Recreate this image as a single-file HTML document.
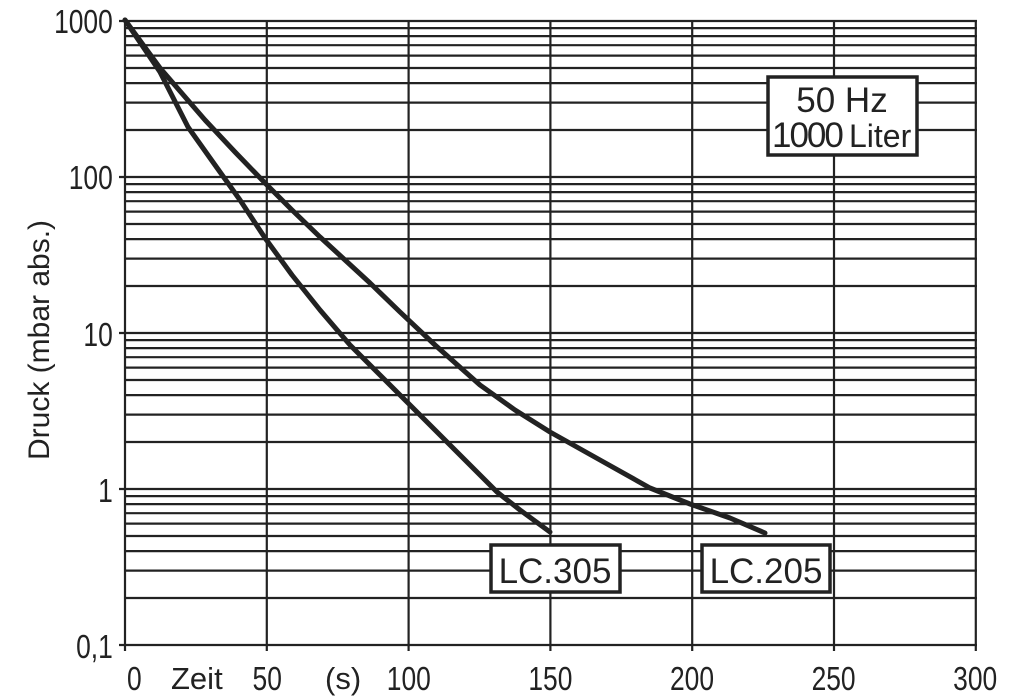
<!DOCTYPE html>
<html><head><meta charset="utf-8"><style>body{margin:0;background:#fff}svg{display:block}text{font-family:"Liberation Sans",sans-serif;fill:#222}</style></head>
<body>
<svg width="1009" height="697" viewBox="0 0 1009 697" xmlns="http://www.w3.org/2000/svg">
<g stroke="#222" stroke-width="2.2">
<line x1="119" y1="21" x2="977" y2="21"/><line x1="119" y1="177" x2="977" y2="177"/><line x1="119" y1="333" x2="977" y2="333"/><line x1="119" y1="489" x2="977" y2="489"/><line x1="119" y1="645" x2="977" y2="645"/>
<line x1="125" y1="130" x2="977" y2="130"/><line x1="125" y1="102.6" x2="977" y2="102.6"/><line x1="125" y1="83.1" x2="977" y2="83.1"/><line x1="125" y1="68" x2="977" y2="68"/><line x1="125" y1="55.6" x2="977" y2="55.6"/><line x1="125" y1="45.2" x2="977" y2="45.2"/><line x1="125" y1="36.1" x2="977" y2="36.1"/><line x1="125" y1="28.1" x2="977" y2="28.1"/>
<line x1="125" y1="286" x2="977" y2="286"/><line x1="125" y1="258.6" x2="977" y2="258.6"/><line x1="125" y1="239.1" x2="977" y2="239.1"/><line x1="125" y1="224" x2="977" y2="224"/><line x1="125" y1="211.6" x2="977" y2="211.6"/><line x1="125" y1="201.2" x2="977" y2="201.2"/><line x1="125" y1="192.1" x2="977" y2="192.1"/><line x1="125" y1="184.1" x2="977" y2="184.1"/>
<line x1="125" y1="442" x2="977" y2="442"/><line x1="125" y1="414.6" x2="977" y2="414.6"/><line x1="125" y1="395.1" x2="977" y2="395.1"/><line x1="125" y1="380" x2="977" y2="380"/><line x1="125" y1="367.6" x2="977" y2="367.6"/><line x1="125" y1="357.2" x2="977" y2="357.2"/><line x1="125" y1="348.1" x2="977" y2="348.1"/><line x1="125" y1="340.1" x2="977" y2="340.1"/>
<line x1="125" y1="598" x2="977" y2="598"/><line x1="125" y1="570.6" x2="977" y2="570.6"/><line x1="125" y1="551.1" x2="977" y2="551.1"/><line x1="125" y1="536" x2="977" y2="536"/><line x1="125" y1="523.6" x2="977" y2="523.6"/><line x1="125" y1="513.2" x2="977" y2="513.2"/><line x1="125" y1="504.1" x2="977" y2="504.1"/><line x1="125" y1="496.1" x2="977" y2="496.1"/>
<line x1="125" y1="21" x2="125" y2="651"/><line x1="266.8" y1="21" x2="266.8" y2="651"/><line x1="408.6" y1="21" x2="408.6" y2="651"/><line x1="550.4" y1="21" x2="550.4" y2="651"/><line x1="692.2" y1="21" x2="692.2" y2="651"/><line x1="834" y1="21" x2="834" y2="651"/><line x1="975.8" y1="21" x2="975.8" y2="651"/>
</g>
<g fill="none" stroke="#222" stroke-width="5" stroke-linejoin="round" stroke-linecap="round">
<polyline points="125,20 160,72 188,127 215,165 240,200 265,238 292,275 320,310 350,345 375,370 400,395 425,420 450,445 475,470 497,492 520,510 550,532"/>
<polyline points="125,20 160,68 205,120 235,152 265,183 292,210 320,237 345,260 370,283 400,312 435,345 480,385 515,410 550,432 600,460 650,488 690,504 730,518 765,533"/>
</g>
<g fill="#fff" stroke="#222" stroke-width="3.5">
<rect x="768" y="77" width="149" height="78"/>
<rect x="491" y="545" width="129" height="47"/>
<rect x="702" y="545" width="128" height="47"/>
</g>
<g font-size="35">
<text x="842" y="112" text-anchor="middle">50 Hz</text>
<text x="772" y="147" letter-spacing="-2">1000</text><text x="849" y="147" font-size="32">Liter</text>
<text x="555" y="583" text-anchor="middle">LC.305</text>
<text x="766" y="583" text-anchor="middle">LC.205</text>
</g>
<g font-size="33" text-anchor="end" transform="scale(0.8,1)">
<text x="141" y="33">1000</text>
<text x="141" y="189">100</text>
<text x="141" y="346">10</text>
<text x="141" y="502">1</text>
<text x="141" y="658">0,1</text>
</g>
<g font-size="33" text-anchor="middle" transform="scale(0.8,1)">
<text x="168" y="690">0</text>
<text x="334" y="690">50</text>
<text x="511" y="690">100</text>
<text x="688" y="690">150</text>
<text x="865" y="690">200</text>
<text x="1042" y="690">250</text>
<text x="1219" y="690">300</text>
</g>
<text x="171" y="689" font-size="31">Zeit</text>
<text x="325" y="689" font-size="31">(s)</text>
<text transform="translate(49,340) rotate(-90)" font-size="30" text-anchor="middle">Druck (mbar abs.)</text>
</svg>
</body></html>
